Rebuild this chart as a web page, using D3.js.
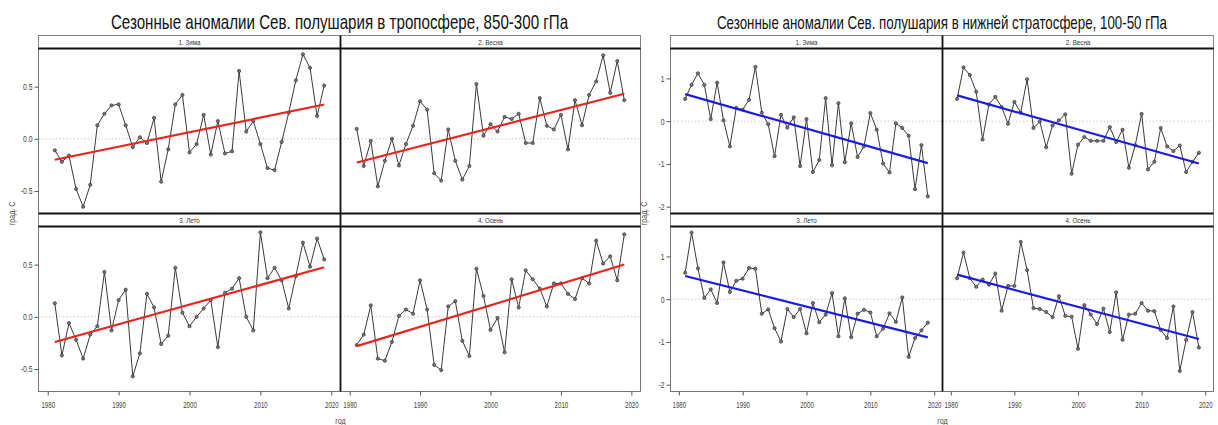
<!DOCTYPE html>
<html>
<head>
<meta charset="utf-8">
<script src="https://cdn.jsdelivr.net/npm/d3@7"></script>
<style>
  body { margin: 0; background: #fff; }
  svg { display: block; font-family: "Liberation Sans Narrow", "Arial Narrow", "Liberation Sans", sans-serif; }
</style>
</head>
<body>
<svg id="chart" width="1218" height="425"></svg>
<script>
// years 1981..2019
const years = d3.range(1981, 2020);
const seasons = ['1. Зима', '2. Весна', '3. Лето', '4. Осень'];

// troposphere 850-300 hPa
const tropoWinter = [-0.11, -0.22, -0.16, -0.48, -0.65, -0.44, 0.13, 0.24, 0.32, 0.33,
  0.13, -0.08, 0.015, -0.04, 0.20, -0.41, -0.10, 0.33, 0.42, -0.13,
  -0.05, 0.23, -0.15, 0.17, -0.14, -0.12, 0.65, 0.07, 0.17, -0.05,
  -0.28, -0.30, -0.03, 0.25, 0.56, 0.81, 0.68, 0.22, 0.51];
const tropoSpring = [0.095, -0.26, -0.02, -0.455, -0.21, 0.0, -0.255, -0.05, 0.125, 0.36,
  0.28, -0.33, -0.40, 0.09, -0.21, -0.39, -0.26, 0.525, 0.03, 0.14,
  0.07, 0.21, 0.19, 0.24, -0.04, -0.04, 0.39, 0.125, 0.09, 0.23,
  -0.10, 0.37, 0.13, 0.42, 0.55, 0.80, 0.44, 0.745, 0.37];
const tropoSummer = [0.13, -0.37, -0.06, -0.22, -0.40, -0.17, -0.09, 0.43, -0.13, 0.16,
  0.26, -0.57, -0.35, 0.22, 0.09, -0.26, -0.18, 0.47, 0.04, -0.09,
  0.0, 0.08, 0.16, -0.29, 0.23, 0.27, 0.37, 0.0, -0.13, 0.81,
  0.37, 0.47, 0.35, 0.08, 0.39, 0.71, 0.48, 0.75, 0.55];
const tropoAutumn = [-0.27, -0.17, 0.11, -0.40, -0.42, -0.24, 0.01, 0.07, 0.03, 0.35,
  0.07, -0.46, -0.51, 0.10, 0.15, -0.23, -0.375, 0.46, 0.20, -0.125,
  -0.01, -0.34, 0.36, 0.09, 0.445, 0.36, 0.27, 0.10, 0.32, 0.32,
  0.22, 0.17, 0.37, 0.32, 0.73, 0.51, 0.58, 0.35, 0.79];

// lower stratosphere 100-50 hPa
const stratoWinter = [0.52, 0.85, 1.12, 0.85, 0.05, 0.90, 0.02, -0.59, 0.31, 0.27,
  0.50, 1.27, 0.20, -0.07, -0.82, 0.15, -0.15, 0.09, -1.05, 0.05,
  -1.19, -0.91, 0.54, -1.03, 0.42, -0.96, -0.05, -0.84, -0.59, 0.19,
  -0.20, -0.99, -1.20, -0.05, -0.16, -0.34, -1.59, -0.56, -1.76];
const stratoSpring = [0.52, 1.26, 1.08, 0.69, -0.43, 0.39, 0.57, 0.33, -0.06, 0.45,
  0.20, 0.98, -0.16, -0.01, -0.61, -0.10, 0.02, 0.16, -1.23, -0.55,
  -0.37, -0.46, -0.46, -0.46, -0.14, -0.49, -0.20, -1.09, -0.56, 0.17,
  -1.13, -0.95, -0.16, -0.59, -0.70, -0.57, -1.19, -0.95, -0.74];
const stratoSummer = [0.62, 1.56, 0.72, 0.03, 0.23, -0.09, 0.86, 0.17, 0.43, 0.48,
  0.73, 0.71, -0.34, -0.24, -0.68, -0.99, -0.23, -0.42, -0.23, -0.80,
  -0.09, -0.54, -0.36, 0.14, -0.87, 0.02, -0.89, -0.34, -0.25, -0.31,
  -0.87, -0.69, -0.33, -0.53, 0.04, -1.35, -0.91, -0.73, -0.55];
const stratoAutumn = [0.49, 1.09, 0.49, 0.29, 0.46, 0.34, 0.60, -0.27, 0.31, 0.31,
  1.34, 0.68, -0.21, -0.23, -0.30, -0.42, 0.07, -0.39, -0.41, -1.16,
  -0.14, -0.36, -0.58, -0.22, -0.77, 0.16, -0.95, -0.36, -0.34, -0.09,
  -0.27, -0.28, -0.72, -0.91, -0.17, -1.68, -0.95, -0.30, -1.13];

const xTicks = [1980, 1990, 2000, 2010, 2020];
const tropoTicks = [-0.5, 0.0, 0.5];
const stratoTicks = [-2, -1, 0, 1];

const charts = [
  {
    title: 'Сезонные аномалии Сев. полушария в тропосфере, 850-300 гПа',
    titleSize: 21, titleY: 29,
    left: 38.5, right: 640.5,
    yDomain: [-0.715, 0.865], yTicks: tropoTicks, yFmt: d3.format('.1f'),
    trendColor: '#e8251f',
    series: [tropoWinter, tropoSpring, tropoSummer, tropoAutumn]
  },
  {
    title: 'Сезонные аномалии Сев. полушария в нижней стратосфере, 100-50 гПа',
    titleSize: 18.5, titleY: 29,
    left: 670.5, right: 1213.5,
    yDomain: [-2.16, 1.70], yTicks: stratoTicks, yFmt: d3.format('d'),
    trendColor: '#1c1ce0',
    series: [stratoWinter, stratoSpring, stratoSummer, stratoAutumn]
  }
];

// rows: strip top, panel top, panel bottom
const rows = [
  { strip: 35.5, top: 48.5, bottom: 213.5 },
  { strip: 213.5, top: 226.5, bottom: 391.5 }
];

const svg = d3.select('#chart');
const minus = s => s.replace('\u2212', '-');

// no narrow face installed: squeeze the regular one horizontally
function narrow(sel, f) {
  sel.each(function () {
    const w = this.getComputedTextLength();
    this.setAttribute('textLength', w * f);
    this.setAttribute('lengthAdjust', 'spacingAndGlyphs');
  });
}

function linFit(xs, ys) {
  const mx = d3.mean(xs), my = d3.mean(ys);
  const b = d3.sum(xs, (x, i) => (x - mx) * (ys[i] - my)) / d3.sum(xs, x => (x - mx) * (x - mx));
  return { a: my - b * mx, b: b };
}

charts.forEach(ch => {
  const g = svg.append('g');
  const mid = Math.round((ch.left + ch.right) / 2) + 0.5;
  const cols = [[ch.left, mid], [mid, ch.right]];

  g.append('text')
    .attr('x', (ch.left + ch.right) / 2)
    .attr('y', ch.titleY)
    .attr('text-anchor', 'middle')
    .attr('font-size', ch.titleSize)
    .attr('fill', '#111')
    .text(ch.title)
    .call(narrow, 0.72);

  ch.series.forEach((vals, k) => {
    const r = rows[Math.floor(k / 2)];
    const c = cols[k % 2];
    const x = d3.scaleLinear().domain([1978.7, 2021.3]).range(c);
    const y = d3.scaleLinear().domain(ch.yDomain).range([r.bottom, r.top]);
    const p = g.append('g');

    // strip
    p.append('rect')
      .attr('x', c[0]).attr('y', r.strip)
      .attr('width', c[1] - c[0]).attr('height', r.top - r.strip)
      .attr('fill', '#fff').attr('stroke', '#666').attr('stroke-width', 0.8);
    p.append('text')
      .attr('x', (c[0] + c[1]) / 2).attr('y', r.strip + 9.5)
      .attr('text-anchor', 'middle')
      .attr('font-size', 8)
      .attr('fill', '#333')
      .text(seasons[k])
      .call(narrow, 0.78);

    // panel box
    p.append('rect')
      .attr('x', c[0]).attr('y', r.top)
      .attr('width', c[1] - c[0]).attr('height', r.bottom - r.top)
      .attr('fill', 'none').attr('stroke', '#555').attr('stroke-width', 0.8);

    // zero line
    p.append('line')
      .attr('x1', c[0]).attr('x2', c[1])
      .attr('y1', y(0)).attr('y2', y(0))
      .attr('stroke', '#c8c8c8').attr('stroke-dasharray', '1.5,2');

    // series
    p.append('path')
      .datum(vals)
      .attr('fill', 'none')
      .attr('stroke', '#3a3a3a')
      .attr('stroke-width', 1)
      .attr('d', d3.line().x((d, i) => x(years[i])).y(d => y(d)));
    p.selectAll('circle').data(vals).join('circle')
      .attr('cx', (d, i) => x(years[i]))
      .attr('cy', d => y(d))
      .attr('r', 1.6)
      .attr('fill', '#777')
      .attr('stroke', '#333')
      .attr('stroke-width', 0.7);

    // linear trend
    const fit = linFit(years, vals);
    const x0 = years[0], x1 = years[years.length - 1];
    p.append('line')
      .attr('x1', x(x0)).attr('y1', y(fit.a + fit.b * x0))
      .attr('x2', x(x1)).attr('y2', y(fit.a + fit.b * x1))
      .attr('stroke', ch.trendColor)
      .attr('stroke-width', 2.2);

    // axes
    if (k % 2 === 0) {
      const ay = p.append('g')
        .attr('transform', `translate(${c[0]},0)`)
        .call(d3.axisLeft(y).tickValues(ch.yTicks).tickSize(4).tickPadding(2)
          .tickFormat(v => minus(ch.yFmt(v))));
      ay.select('.domain').remove();
      ay.selectAll('line').attr('stroke', '#555');
      ay.selectAll('text').attr('font-size', 9).attr('fill', '#444')
        .call(narrow, 0.75);
    }
    if (k >= 2) {
      const ax = p.append('g')
        .attr('transform', `translate(0,${r.bottom})`)
        .call(d3.axisBottom(x).tickValues(xTicks).tickSize(4).tickPadding(6)
          .tickFormat(d3.format('d')));
      ax.select('.domain').remove();
      ax.selectAll('line').attr('stroke', '#555');
      ax.selectAll('text').attr('font-size', 8.5).attr('fill', '#444')
        .call(narrow, 0.72);
    }
  });

  // heavy black rules: strip bottoms, row joint, column divider
  const heavy = [rows[0].top, rows[1].strip, rows[1].top];
  heavy.forEach(yy => {
    g.append('line')
      .attr('x1', ch.left).attr('x2', ch.right)
      .attr('y1', yy).attr('y2', yy)
      .attr('stroke', '#111').attr('stroke-width', 1.8);
  });
  g.append('line')
    .attr('x1', mid).attr('x2', mid)
    .attr('y1', rows[0].strip).attr('y2', rows[1].bottom)
    .attr('stroke', '#111').attr('stroke-width', 1.8);

  // axis titles
  g.append('text')
    .attr('transform', `translate(${ch.left - 24},${rows[0].bottom}) rotate(-90)`)
    .attr('text-anchor', 'middle')
    .attr('font-size', 9)
    .attr('fill', '#444')
    .text('град. С')
    .call(narrow, 0.78);
  g.append('text')
    .attr('x', mid).attr('y', 424)
    .attr('text-anchor', 'middle')
    .attr('font-size', 9)
    .attr('fill', '#444')
    .text('год')
    .call(narrow, 0.78);
});
</script>
</body>
</html>
